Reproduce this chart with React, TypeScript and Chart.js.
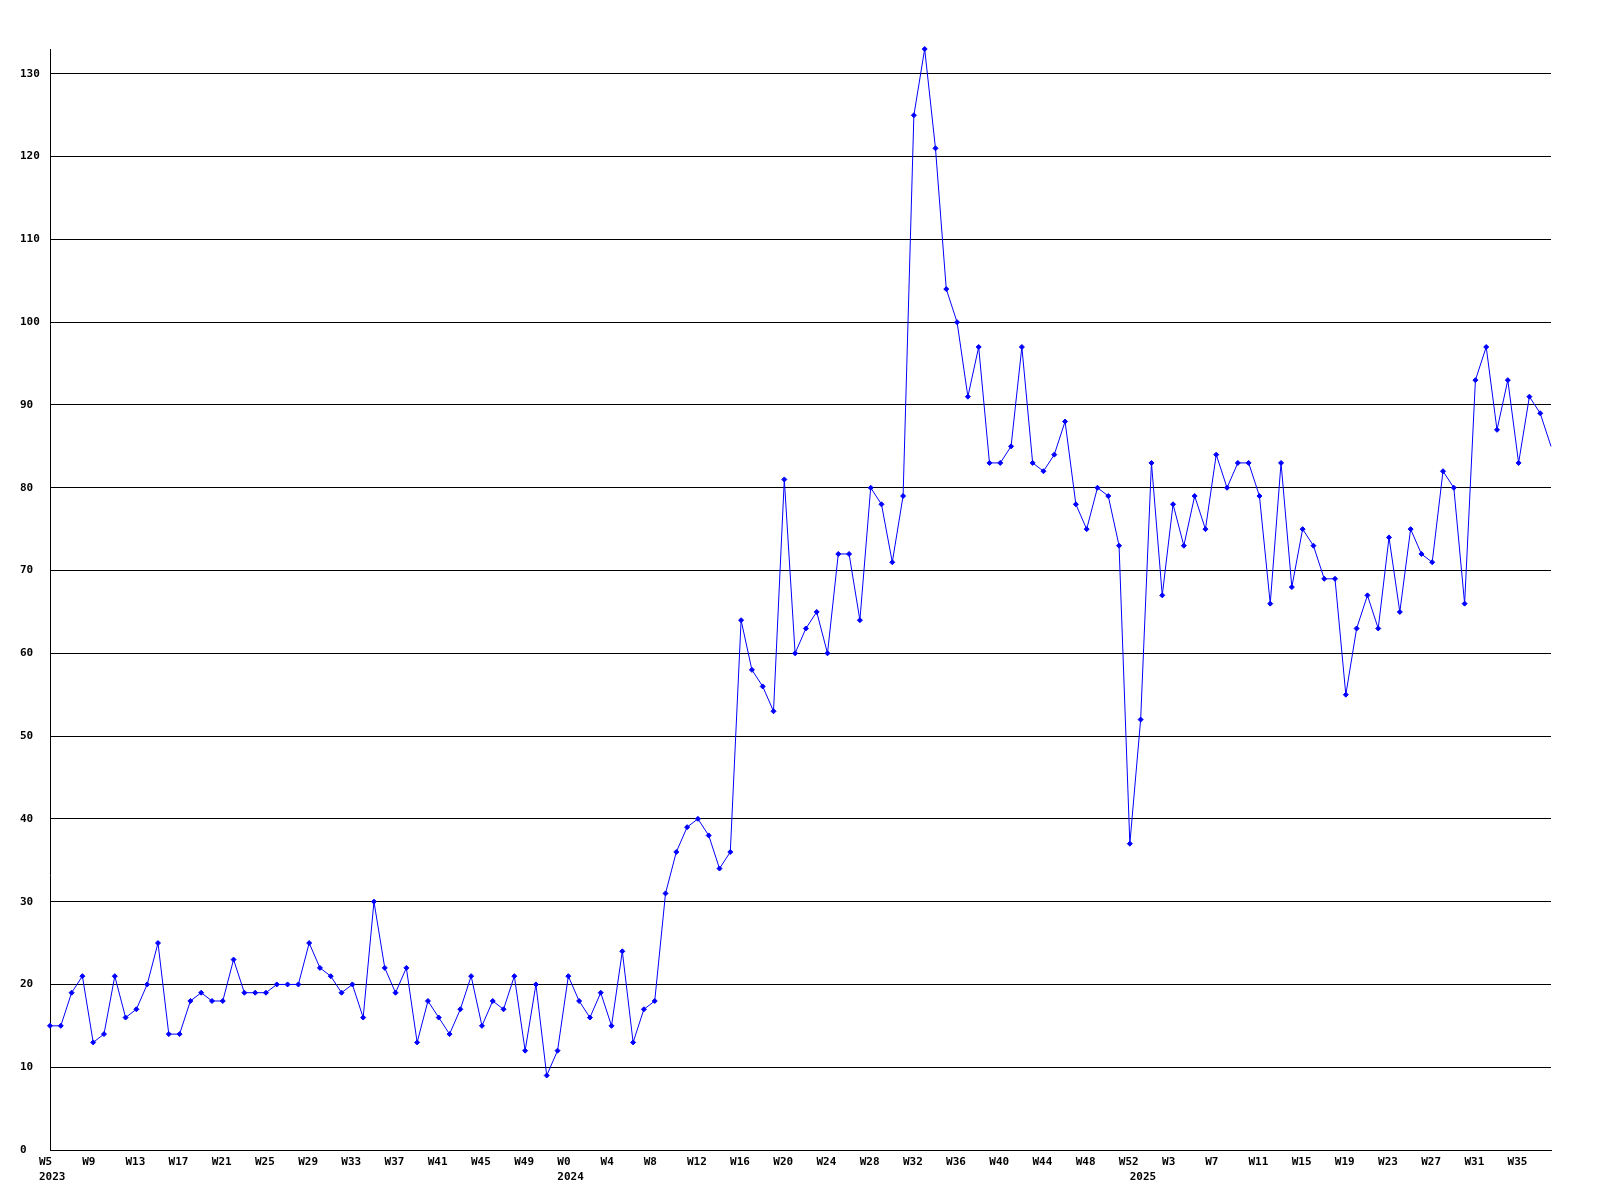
import React, { useEffect, useRef } from 'react';
import { Chart, registerables } from 'chart.js';

Chart.register(...registerables);

// Weekly values, one array per year
const YEARS = [2023, 2024, 2025];
const FIRST_WEEK = [5, 0, 0];
const values2023 = [15, 15, 19, 21, 13, 14, 21, 16, 17, 20, 25, 14, 14, 18, 19, 18, 18, 23, 19, 19, 19, 20, 20, 20, 25, 22, 21, 19, 20, 16, 30, 22, 19, 22, 13, 18, 16, 14, 17, 21, 15, 18, 17, 21, 12, 20, 9, 12];
const values2024 = [21, 18, 16, 19, 15, 24, 13, 17, 18, 31, 36, 39, 40, 38, 34, 36, 64, 58, 56, 53, 81, 60, 63, 65, 60, 72, 72, 64, 80, 78, 71, 79, 125, 133, 121, 104, 100, 91, 97, 83, 83, 85, 97, 83, 82, 84, 88, 78, 75, 80, 79, 73, 37];
const values2025 = [52, 83, 67, 78, 73, 79, 75, 84, 80, 83, 83, 79, 66, 83, 68, 75, 73, 69, 69, 55, 63, 67, 63, 74, 65, 75, 72, 71, 82, 80, 66, 93, 97, 87, 93, 83, 91, 89, 85];
const VALUES_BY_YEAR = [values2023, values2024, values2025];

const Y_MIN = 0;
const Y_MAX = 133;
const Y_STEP = 10;
const LABEL_EVERY = 4;

// Build category labels and year-start indices
const labels: string[] = [];
const values: number[] = [];
const yearStart: Record<number, string> = {};
VALUES_BY_YEAR.forEach((vals, yi) => {
  yearStart[labels.length] = String(YEARS[yi]);
  vals.forEach((v, k) => {
    labels.push('W' + (FIRST_WEEK[yi] + k));
    values.push(v);
  });
});

const FAMILY = "'DejaVu Sans Mono', monospace";
const Y_FONT = { family: FAMILY, size: 11, weight: 'bold' as const, lineHeight: 1 };
const X_FONT = { family: FAMILY, size: 11, weight: 'bold' as const, lineHeight: 1.4 };

export default function App() {
  const ref = useRef<HTMLCanvasElement>(null);

  useEffect(() => {
    if (!ref.current) return;
    const last = values.length - 1;
    const chart = new Chart(ref.current, {
      type: 'line',
      data: {
        labels,
        datasets: [
          {
            data: values,
            borderColor: '#0000ff',
            backgroundColor: '#0000ff',
            borderWidth: 1,
            tension: 0,
            fill: false,
            pointStyle: 'rectRot',
            pointRadius: (c: any) => (c.dataIndex === last ? 0 : 2.5),
            pointBorderWidth: 1,
            pointBorderColor: '#0000ff',
            pointBackgroundColor: '#0000ff',
            clip: false as any,
          },
        ],
      },
      options: {
        responsive: false,
        animation: false,
        devicePixelRatio: 1,
        layout: { padding: { top: 49, right: 49, left: 20, bottom: 0 } },
        plugins: { legend: { display: false }, tooltip: { enabled: false } },
        scales: {
          x: {
            type: 'category',
            offset: false,
            grid: { display: false, drawTicks: false },
            border: { display: true, color: '#000000', width: 1 },
            ticks: {
              autoSkip: false,
              maxRotation: 0,
              minRotation: 0,
              align: 'start',
              labelOffset: -11,
              padding: 4,
              color: '#000000',
              font: X_FONT,
              callback: (_v: any, i: number) => {
                const w = i % LABEL_EVERY === 0 ? labels[i] : '';
                const y = yearStart[i];
                return y ? [w, y] : w;
              },
            },
            afterFit: (s: any) => {
              s.height = 50;
            },
          },
          y: {
            type: 'linear',
            min: Y_MIN,
            max: Y_MAX,
            grid: { color: '#000000', lineWidth: 1, drawTicks: false },
            border: { display: true, color: '#000000', width: 1 },
            ticks: {
              stepSize: Y_STEP,
              includeBounds: false,
              crossAlign: 'far',
              padding: 10,
              color: '#000000',
              font: Y_FONT,
            },
            afterFit: (s: any) => {
              s.width = 30;
            },
          },
        },
      },
    } as any);
    return () => chart.destroy();
  }, []);

  return (
    <div style={{ position: 'absolute', left: 0, top: 0, width: 1600, height: 1200, background: '#ffffff' }}>
      <canvas ref={ref} width={1600} height={1200} style={{ display: 'block' }} />
    </div>
  );
}
